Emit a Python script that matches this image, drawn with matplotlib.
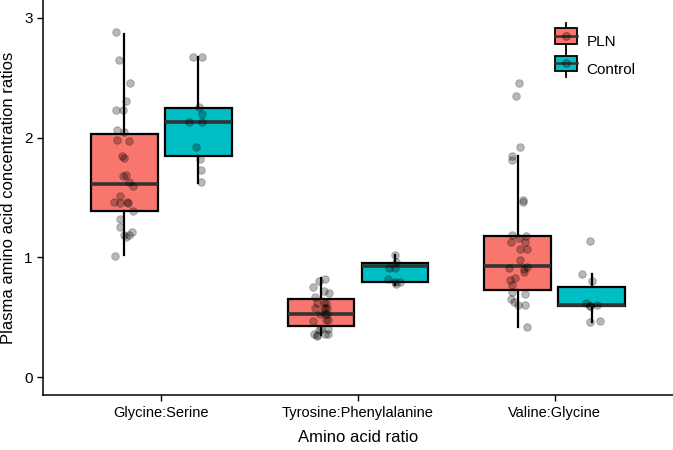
import numpy as np
import matplotlib
matplotlib.use('Agg')
import matplotlib.pyplot as plt
from matplotlib.patches import Rectangle
from matplotlib.lines import Line2D
from matplotlib.legend_handler import HandlerBase

plt.rcParams['font.family'] = ['Liberation Sans', 'DejaVu Sans']

ratios = ['Glycine:Serine', 'Tyrosine:Phenylalanine', 'Valine:Glycine']
groups = ['PLN', 'Control']
colors = {'PLN': '#F8766D', 'Control': '#00BFC4'}

# box stats: (whislo, q1, med, q3, whishi) per ratio
pln_box = [(1.02, 1.39, 1.61, 2.03, 2.87),
           (0.35, 0.43, 0.53, 0.65, 0.83),
           (0.42, 0.73, 0.93, 1.18, 1.85)]
ctrl_box = [(1.62, 1.85, 2.13, 2.25, 2.67),
            (0.77, 0.79, 0.93, 0.95, 1.02),
            (0.46, 0.59, 0.60, 0.75, 0.86)]

# individual observations
pln_gly_ser = [2.88, 2.65, 2.46, 2.31, 2.23, 2.23, 2.05, 2.06, 1.97, 1.98,
               1.85, 1.83, 1.68, 1.69, 1.63, 1.60, 1.51, 1.46, 1.45, 1.45,
               1.46, 1.39, 1.32, 1.25, 1.21, 1.17, 1.19, 1.19, 1.01]
ctrl_gly_ser = [2.67, 2.67, 2.26, 2.20, 2.13, 2.13, 1.92, 1.82, 1.73, 1.63]
pln_tyr_phe = [0.82, 0.80, 0.75, 0.72, 0.70, 0.67, 0.63, 0.62, 0.62, 0.58,
               0.58, 0.58, 0.58, 0.53, 0.53, 0.53, 0.48, 0.48, 0.47, 0.40,
               0.39, 0.40, 0.36, 0.36, 0.35, 0.36, 0.34]
ctrl_tyr_phe = [1.02, 0.96, 0.91, 0.91, 0.82, 0.79, 0.78, 0.79]
pln_val_gly = [2.46, 2.35, 1.92, 1.85, 1.81, 1.48, 1.46, 1.16, 1.18, 1.19,
               1.13, 1.13, 1.07, 1.07, 0.98, 0.92, 0.90, 0.88, 0.91, 0.83,
               0.81, 0.77, 0.71, 0.69, 0.65, 0.63, 0.60, 0.60, 0.42]
ctrl_val_gly = [1.14, 0.86, 0.80, 0.62, 0.60, 0.59, 0.59, 0.47, 0.46]

points = {'PLN': [pln_gly_ser, pln_tyr_phe, pln_val_gly],
          'Control': [ctrl_gly_ser, ctrl_tyr_phe, ctrl_val_gly]}
boxes = {'PLN': pln_box, 'Control': ctrl_box}

fig = plt.figure(figsize=(6.73, 4.5), dpi=100)
ax = fig.add_axes([43 / 673, 55 / 450, 1 - 43 / 673, 1 - 55 / 450])

dodge = 0.188
width = 0.34
rng = np.random.default_rng(3)

for k, g in enumerate(groups):
    off = -dodge if g == 'PLN' else dodge
    stats = []
    for lo, q1, med, q3, hi in boxes[g]:
        stats.append(dict(whislo=lo, q1=q1, med=med, q3=q3, whishi=hi, fliers=[]))
    pos = np.arange(len(ratios)) + off
    ax.bxp(stats, positions=pos, widths=width, patch_artist=True,
           showcaps=False, showfliers=False, manage_ticks=False,
           boxprops=dict(facecolor=colors[g], edgecolor='black', linewidth=1.6),
           whiskerprops=dict(color='black', linewidth=1.6),
           medianprops=dict(color='#333333', linewidth=2.6, solid_capstyle='butt'),
           zorder=2)
    for i, vals in enumerate(points[g]):
        x = pos[i] + rng.uniform(-0.05, 0.05, len(vals))
        ax.scatter(x, vals, s=30, facecolor='black', edgecolor='black',
                   linewidths=0.6, alpha=0.28, zorder=3)

ax.set_xlim(-0.6, 2.6)
ax.set_ylim(-0.15, 3.15)
ax.set_xticks(range(len(ratios)))
ax.set_xticklabels(ratios, fontsize=10.5)
ax.set_yticks([0, 1, 2, 3])
ax.tick_params(axis='y', labelsize=11, length=4, width=1)
ax.tick_params(axis='x', length=4, width=1, pad=4)
for s in ['top', 'right']:
    ax.spines[s].set_visible(False)
for s in ['left', 'bottom']:
    ax.spines[s].set_linewidth(1.1)
ax.set_xlabel('Amino acid ratio', fontsize=12, labelpad=7)
ax.set_ylabel('Plasma amino acid concentration ratios', fontsize=12, labelpad=6)


class BoxKey(HandlerBase):
    def __init__(self, color):
        super().__init__()
        self.color = color

    def create_artists(self, legend, orig, xd, yd, w, h, fontsize, trans):
        cx = xd + w / 2
        cy = yd + h / 2
        bw, bh = w * 0.95, h * 1.0
        whisk = Line2D([cx, cx], [cy - h * 0.85, cy + h * 0.85], color='black',
                       lw=1.3, transform=trans)
        box = Rectangle((cx - bw / 2, cy - bh / 2), bw, bh, facecolor=self.color,
                        edgecolor='black', lw=1.3, transform=trans)
        med = Line2D([cx - bw / 2, cx + bw / 2], [cy, cy], color='#333333', lw=1.8,
                     transform=trans)
        dot = Line2D([cx], [cy], marker='o', ms=5.5, color='black', alpha=0.28,
                     lw=0, transform=trans)
        return [whisk, box, med, dot]


handles = [Rectangle((0, 0), 1, 1, label=g) for g in groups]
ax.legend(handles=handles, labels=groups,
          handler_map={handles[0]: BoxKey(colors['PLN']),
                       handles[1]: BoxKey(colors['Control'])},
          loc='upper left', bbox_to_anchor=(0.79, 0.95), frameon=False,
          fontsize=11, handlelength=1.5, handleheight=1.2, handletextpad=0.6,
          labelspacing=0.75)

plt.savefig('out.png', dpi=100)
